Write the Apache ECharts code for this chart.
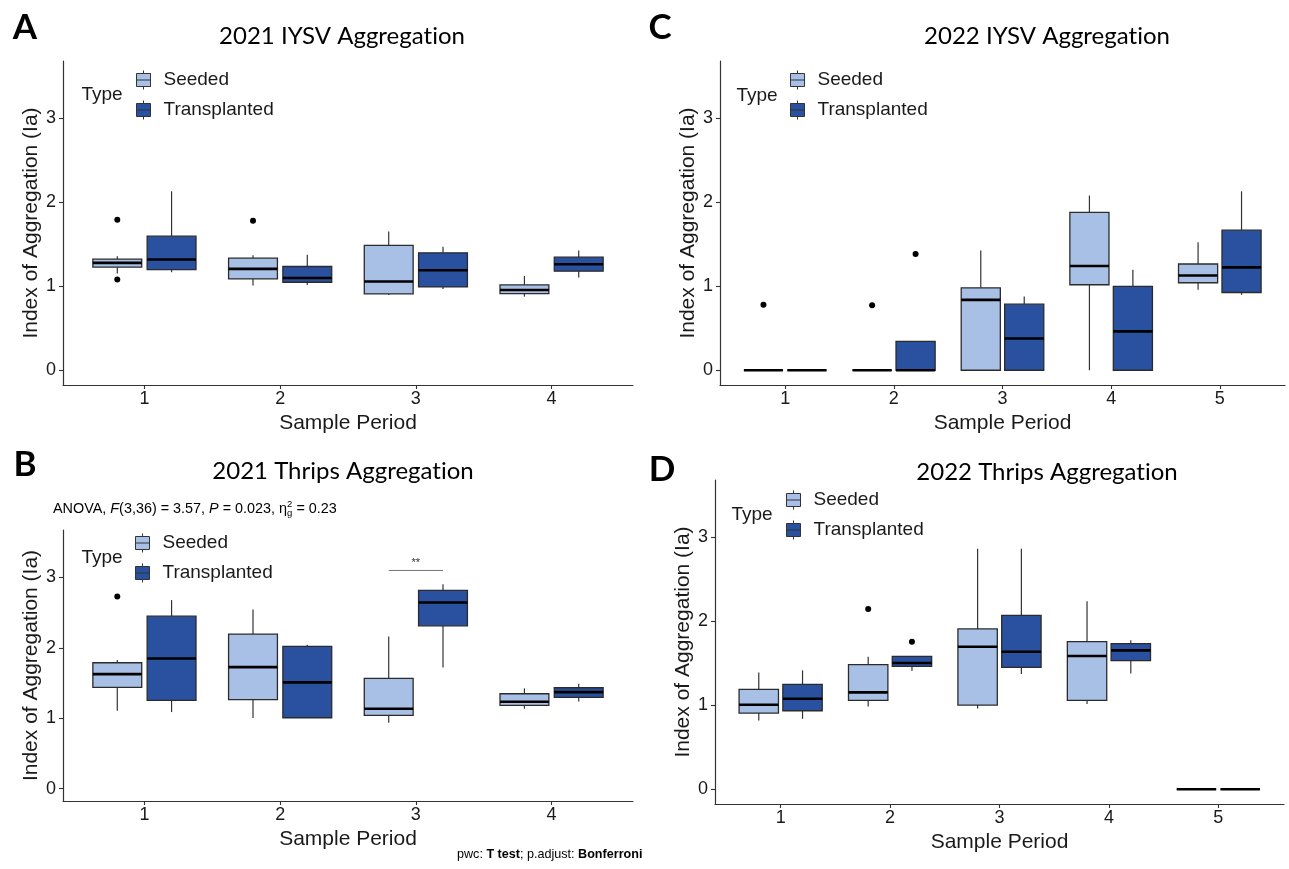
<!DOCTYPE html>
<html><head><meta charset="utf-8">
<script src="https://cdn.jsdelivr.net/npm/echarts@6/dist/echarts.min.js"></script>
<style>html,body{margin:0;padding:0;background:#fff}#c{width:1289px;height:869px}</style>
</head><body><div id="c"></div>
<script>
// ---------------- DATA ----------------
// box stats per period: [lowerWhisker, Q1, median, Q3, upperWhisker]
const periods4 = [1, 2, 3, 4];
const periods5 = [1, 2, 3, 4, 5];
const tickLabels4 = ['1', '2', '3', '4'];
const tickLabels5 = ['1', '2', '3', '4', '5'];
const yTickValues = [0, 1, 2, 3];

// A: 2021 IYSV Aggregation
const iysv2021Seeded = [
  [1.15, 1.225, 1.276, 1.32, 1.356],
  [1.006, 1.085, 1.205, 1.332, 1.368],
  [0.895, 0.907, 1.054, 1.483, 1.65],
  [0.875, 0.91, 0.954, 1.014, 1.121]
];
const iysv2021Transplanted = [
  [1.165, 1.197, 1.316, 1.594, 2.127],
  [1.014, 1.046, 1.097, 1.233, 1.372],
  [0.966, 0.99, 1.189, 1.396, 1.467],
  [1.101, 1.177, 1.26, 1.344, 1.423]
];
const iysv2021SeededOutliers = [[1, 1.79], [1, 1.08], [2, 1.777]];
const iysv2021TransplantedOutliers = [];

// B: 2021 Thrips Aggregation
const thrips2021Seeded = [
  [1.107, 1.439, 1.628, 1.789, 1.827],
  [1.003, 1.264, 1.727, 2.196, 2.546],
  [0.937, 1.041, 1.136, 1.566, 2.163],
  [1.136, 1.183, 1.235, 1.349, 1.425]
];
const thrips2021Transplanted = [
  [1.088, 1.254, 1.85, 2.451, 2.679],
  [1.008, 1.008, 1.51, 2.021, 2.044],
  [1.723, 2.314, 2.646, 2.816, 2.906],
  [1.24, 1.297, 1.372, 1.434, 1.491]
];
const thrips2021SeededOutliers = [[1, 2.731]];
const thrips2021TransplantedOutliers = [];
const thrips2021Significance = [[3, 3.1, '**']];

// C: 2022 IYSV Aggregation
const iysv2022Seeded = [
  [0, 0, 0, 0, 0],
  [0, 0, 0, 0, 0],
  [0, 0, 0.837, 0.98, 1.422],
  [0, 1.016, 1.239, 1.876, 2.076],
  [0.956, 1.04, 1.127, 1.263, 1.522]
];
const iysv2022Transplanted = [
  [0, 0, 0, 0, 0],
  [0, 0, 0, 0.343, 0.343],
  [0, 0, 0.378, 0.785, 0.876],
  [0, 0, 0.462, 0.996, 1.195],
  [0.896, 0.924, 1.223, 1.665, 2.127]
];
const iysv2022SeededOutliers = [[1, 0.78], [2, 0.773]];
const iysv2022TransplantedOutliers = [[2, 1.382]];

// D: 2022 Thrips Aggregation
const thrips2022Seeded = [
  [0.817, 0.905, 1.004, 1.187, 1.389],
  [0.984, 1.056, 1.151, 1.48, 1.575],
  [0.96, 1.0, 1.694, 1.905, 2.857],
  [1.012, 1.056, 1.583, 1.754, 2.234],
  [0, 0, 0, 0, 0]
];
const thrips2022Transplanted = [
  [0.837, 0.933, 1.075, 1.246, 1.413],
  [1.409, 1.46, 1.5, 1.579, 1.579],
  [1.369, 1.448, 1.635, 2.067, 2.857],
  [1.377, 1.528, 1.651, 1.73, 1.77],
  [0, 0, 0, 0, 0]
];
const thrips2022SeededOutliers = [[2, 2.143]];
const thrips2022TransplantedOutliers = [[2, 1.754]];

// ---------------- STYLE ----------------
const SANS = 'Liberation Sans';
const TITLE_FONT = 'Lato';
const SEEDED_COLOR = '#A9C0E6';
const TRANS_COLOR = '#2A51A0';
const DODGE = 0.2, BOX_W = 0.36;
const Y_MIN = -0.175, Y_MAX = 3.675;

const grids = [
  {left: 63, top: 61, width: 570, height: 324},   // A
  {left: 63, top: 530, width: 570, height: 271},  // B
  {left: 720, top: 61, width: 565, height: 324},  // C
  {left: 715, top: 480, width: 569, height: 324}  // D
];

function xAxisFor(gi, periods, labels) {
  return {
    type: 'value', gridIndex: gi, min: 0.4, max: periods.length + 0.6,
    axisLine: {show: true, onZero: false, lineStyle: {color: '#333', width: 1.2}},
    axisTick: {show: true, length: 4, customValues: periods, lineStyle: {color: '#333', width: 1.1}},
    axisLabel: {customValues: periods, formatter: v => labels[periods.indexOf(v)] || '',
      fontSize: 18, color: '#1a1a1a', fontFamily: SANS, margin: 5},
    splitLine: {show: false},
    name: 'Sample Period', nameLocation: 'middle', nameGap: 28,
    nameTextStyle: {fontSize: 21, color: '#1a1a1a', fontFamily: SANS}
  };
}
function yAxisFor(gi) {
  return {
    type: 'value', gridIndex: gi, min: Y_MIN, max: Y_MAX,
    axisLine: {show: true, onZero: false, lineStyle: {color: '#333', width: 1.2}},
    axisTick: {show: true, length: 4, customValues: yTickValues, lineStyle: {color: '#333', width: 1.1}},
    axisLabel: {customValues: yTickValues, fontSize: 18, color: '#1a1a1a', fontFamily: SANS, margin: 7},
    splitLine: {show: false},
    name: 'Index of Aggregation (Ia)', nameLocation: 'middle', nameGap: 21,
    nameTextStyle: {fontSize: 21, color: '#1a1a1a', fontFamily: SANS}
  };
}

function boxSeries(name, color, gi, stats, periods, off) {
  return {
    type: 'custom', name: name, xAxisIndex: gi, yAxisIndex: gi,
    itemStyle: {color: color},
    encode: {x: 0, y: [1, 2, 3, 4, 5]},
    data: stats.map((s, i) => [periods[i]].concat(s)),
    renderItem: function (params, api) {
      const x = api.value(0) + off;
      const lo = api.value(1), q1 = api.value(2), med = api.value(3), q3 = api.value(4), hi = api.value(5);
      const tl = api.coord([x - BOX_W / 2, q3]);
      const br = api.coord([x + BOX_W / 2, q1]);
      const pm = api.coord([x, med]);
      const plo = api.coord([x, lo]), phi = api.coord([x, hi]);
      const pq1 = api.coord([x, q1]), pq3 = api.coord([x, q3]);
      const lineStyle = {stroke: '#333', lineWidth: 1.2};
      return {type: 'group', children: [
        {type: 'line', shape: {x1: phi[0], y1: phi[1], x2: pq3[0], y2: pq3[1]}, style: lineStyle},
        {type: 'line', shape: {x1: plo[0], y1: plo[1], x2: pq1[0], y2: pq1[1]}, style: lineStyle},
        {type: 'rect', shape: {x: tl[0], y: tl[1], width: br[0] - tl[0], height: br[1] - tl[1]},
          style: {fill: color, stroke: '#2b2b2b', lineWidth: 1.3}},
        {type: 'line', shape: {x1: tl[0], y1: pm[1], x2: br[0], y2: pm[1]}, style: {stroke: '#000', lineWidth: 2.6}}
      ]};
    },
    z: 2
  };
}
function outlierSeries(gi, pts, off) {
  return {
    type: 'scatter', xAxisIndex: gi, yAxisIndex: gi, symbolSize: 6, silent: true,
    itemStyle: {color: '#000', opacity: 1}, z: 3,
    data: pts.map(p => [p[0] + off, p[1]])
  };
}
function sigSeries(gi, sig) {
  return {
    type: 'custom', xAxisIndex: gi, yAxisIndex: gi, silent: true, z: 4,
    data: sig.map(s => [s[0], s[1]]),
    renderItem: function (params, api) {
      const x = api.value(0), y = api.value(1);
      const a = api.coord([x - DODGE, y]), b = api.coord([x + DODGE, y]);
      return {type: 'group', children: [
        {type: 'line', shape: {x1: a[0], y1: a[1], x2: b[0], y2: b[1]}, style: {stroke: '#666', lineWidth: 0.9}},
        {type: 'text', style: {x: (a[0] + b[0]) / 2, y: a[1] - 2, text: sig[params.dataIndex][2],
          fill: '#333', font: '11px ' + SANS, textAlign: 'center', textVerticalAlign: 'bottom'}}
      ]};
    }
  };
}

const panels = [
  {gi: 0, periods: periods4, labels: tickLabels4, s: iysv2021Seeded, t: iysv2021Transplanted, so: iysv2021SeededOutliers, to: iysv2021TransplantedOutliers},
  {gi: 1, periods: periods4, labels: tickLabels4, s: thrips2021Seeded, t: thrips2021Transplanted, so: thrips2021SeededOutliers, to: thrips2021TransplantedOutliers},
  {gi: 2, periods: periods5, labels: tickLabels5, s: iysv2022Seeded, t: iysv2022Transplanted, so: iysv2022SeededOutliers, to: iysv2022TransplantedOutliers},
  {gi: 3, periods: periods5, labels: tickLabels5, s: thrips2022Seeded, t: thrips2022Transplanted, so: thrips2022SeededOutliers, to: thrips2022TransplantedOutliers}
];

const series = [];
panels.forEach(p => {
  series.push(boxSeries('Seeded', SEEDED_COLOR, p.gi, p.s, p.periods, -DODGE));
  series.push(boxSeries('Transplanted', TRANS_COLOR, p.gi, p.t, p.periods, DODGE));
  series.push(outlierSeries(p.gi, p.so, -DODGE));
  series.push(outlierSeries(p.gi, p.to, DODGE));
});
series.push(sigSeries(1, thrips2021Significance));

const KEY_ICON = 'path://M7,0 L7,3 M0,3 L14,3 L14,16 L0,16 Z M0,9.5 L14,9.5 M7,16 L7,19';
const legendPos = [{left: 136, top: 70}, {left: 135, top: 533}, {left: 790, top: 70}, {left: 786, top: 490}];
const legends = legendPos.map(lp => ({
  orient: 'vertical', left: lp.left, top: lp.top, padding: 0, itemGap: 10,
  itemWidth: 14, itemHeight: 19, icon: KEY_ICON,
  itemStyle: {borderColor: '#333', borderWidth: 1},
  textStyle: {fontSize: 19, color: '#1a1a1a', fontFamily: SANS, padding: [0, 0, 0, 8], lineHeight: 19},
  data: ['Seeded', 'Transplanted'], selectedMode: false
}));

// ---------------- TEXT ----------------
const graphics = [];
function txt(x, y, text, font, align, fill) {
  graphics.push({type: 'text', x: x, y: y, style: {text: text, font: font, fill: fill || '#000',
    textAlign: align || 'center', textVerticalAlign: 'middle'}});
}
// \u200C (zero-width non-joiner) keeps "ti" from forming a ligature
const ZW = '\u200C';
txt(342, 36, '2021 IYSV Aggregat' + ZW + 'ion', '24px ' + TITLE_FONT);
txt(1047, 36, '2022 IYSV Aggregat' + ZW + 'ion', '24px ' + TITLE_FONT);
txt(343, 471, '2021 Thrips Aggregat' + ZW + 'ion', '24px ' + TITLE_FONT);
txt(1047, 472, '2022 Thrips Aggregat' + ZW + 'ion', '24px ' + TITLE_FONT);
txt(25, 28, 'A', 'bold 35px ' + TITLE_FONT);
txt(25, 465, 'B', 'bold 35px ' + TITLE_FONT);
txt(660, 28, 'C', 'bold 35px ' + TITLE_FONT);
txt(662, 470, 'D', 'bold 35px ' + TITLE_FONT);
txt(102, 95, 'Type', '19px ' + SANS, 'center', '#1a1a1a');
txt(102, 558, 'Type', '19px ' + SANS, 'center', '#1a1a1a');
txt(757, 96, 'Type', '19px ' + SANS, 'center', '#1a1a1a');
txt(752, 515, 'Type', '19px ' + SANS, 'center', '#1a1a1a');

const mctx = document.createElement('canvas').getContext('2d');
function tw(t, font) { mctx.font = font; return mctx.measureText(t).width; }
function segments(x0, y, segs) {
  let x = x0;
  segs.forEach(s => {
    if (s.stack) {
      graphics.push({type: 'text', x: x, y: y - 4.5, style: {text: s.sup, font: s.font, fill: '#000', textAlign: 'left', textVerticalAlign: 'middle'}});
      graphics.push({type: 'text', x: x, y: y + 4.5, style: {text: s.sub, font: s.font, fill: '#000', textAlign: 'left', textVerticalAlign: 'middle'}});
      x += Math.max(tw(s.sup, s.font), tw(s.sub, s.font));
    } else {
      graphics.push({type: 'text', x: x, y: y, style: {text: s.t, font: s.font, fill: '#000', textAlign: 'left', textVerticalAlign: 'middle'}});
      x += tw(s.t, s.font);
    }
  });
}
const AF = '14.4px ' + SANS, AI = 'italic 14.4px ' + SANS, AS = '9.5px ' + SANS;
segments(53, 509, [
  {t: 'ANOVA, ', font: AF}, {t: 'F', font: AI}, {t: '(3,36) = 3.57, ', font: AF},
  {t: 'P', font: AI}, {t: ' = 0.023, η', font: AF}, {stack: true, sup: '2', sub: 'g', font: AS},
  {t: ' = 0.23', font: AF}
]);
const FF = '12.6px ' + SANS, FB = 'bold 12.6px ' + SANS;
segments(457, 855, [
  {t: 'pwc: ', font: FF}, {t: 'T test', font: FB}, {t: '; p.adjust: ', font: FF}, {t: 'Bonferroni', font: FB}
]);

const chart = echarts.init(document.getElementById('c'), null, {renderer: 'canvas'});
chart.setOption({
  backgroundColor: '#fff',
  animation: false,
  grid: grids,
  xAxis: panels.map(p => xAxisFor(p.gi, p.periods, p.labels)),
  yAxis: panels.map(p => yAxisFor(p.gi)),
  legend: legends,
  series: series,
  graphic: graphics
});
</script>
</body></html>
